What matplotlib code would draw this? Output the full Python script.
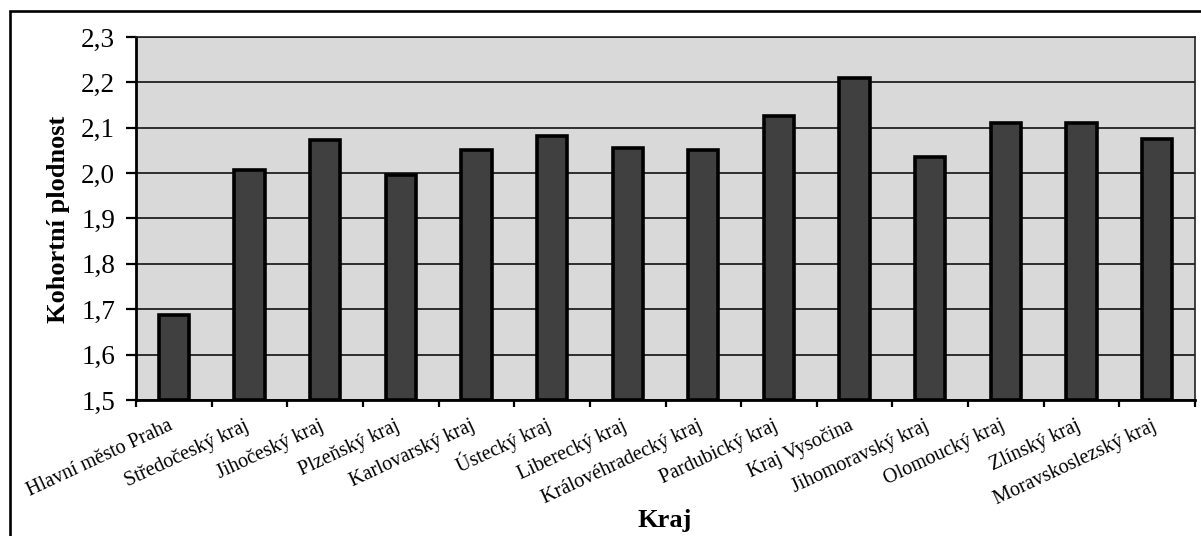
import matplotlib
matplotlib.use("Agg")
import matplotlib.pyplot as plt
from matplotlib.patches import Rectangle
from matplotlib.ticker import FixedLocator, FuncFormatter

plt.rcParams['font.family'] = ['Liberation Serif', 'DejaVu Serif']

regions = [
    "Hlavní město Praha", "Středočeský kraj", "Jihočeský kraj", "Plzeňský kraj",
    "Karlovarský kraj", "Ústecký kraj", "Liberecký kraj", "Královéhradecký kraj",
    "Pardubický kraj", "Kraj Vysočina", "Jihomoravský kraj", "Olomoucký kraj",
    "Zlínský kraj", "Moravskoslezský kraj",
]
fertility = [1.687, 2.007, 2.073, 1.996, 2.051, 2.082, 2.055, 2.051,
             2.126, 2.209, 2.036, 2.111, 2.111, 2.075]
y_ticks = [1.5, 1.6, 1.7, 1.8, 1.9, 2.0, 2.1, 2.2, 2.3]

W, H = 1201, 536
fig = plt.figure(figsize=(W / 100, H / 100), dpi=100)

# outer frame of the chart object
fig.add_artist(Rectangle((10 / W, -0.1), 1.2, 1 - 11 / H + 0.1,
                         transform=fig.transFigure, fill=False,
                         edgecolor='black', linewidth=1.9))

left, right, top, bottom = 136, 1195, 37, 400
ax = fig.add_axes([left / W, 1 - bottom / H, (right - left) / W, (bottom - top) / H])
ax.set_facecolor('#d9d9d9')

x = list(range(len(regions)))
ax.bar(x, [v - 1.5 for v in fertility], bottom=1.5, width=0.40,
       color='#404040', edgecolor='black', linewidth=2.6, zorder=3)

ax.set_xlim(-0.5, len(regions) - 0.5)
ax.set_ylim(1.5, 2.3)
ax.set_yticks(y_ticks)
ax.yaxis.set_major_formatter(FuncFormatter(lambda v, p: f"{v:.1f}".replace('.', ',')))
ax.grid(axis='y', color='black', linewidth=1.1, zorder=1)
ax.set_axisbelow(True)

ax.set_xticks(x)
ax.set_xticklabels(regions, rotation=25, ha='right', va='baseline',
                   rotation_mode='anchor', fontsize=14.5)
ax.tick_params(axis='x', which='major', length=0, pad=21)
ax.xaxis.set_minor_locator(FixedLocator([i - 0.5 for i in range(len(regions) + 1)]))
ax.tick_params(axis='x', which='minor', length=5, width=1.6, direction='out', color='black')
ax.tick_params(axis='y', which='major', length=7, width=1.6, direction='out',
               labelsize=19.5, pad=8, color='black')

for side in ('left', 'bottom'):
    ax.spines[side].set_color('black')
    ax.spines[side].set_linewidth(2.0)
for side in ('top', 'right'):
    ax.spines[side].set_color('#222222')
    ax.spines[side].set_linewidth(1.2)

fig.text(58 / W, 1 - 219 / H, "Kohortní plodnost", rotation=90, ha='center', va='center',
         fontsize=19, fontweight='bold')
fig.text(665 / W, 1 - 521 / H, "Kraj", ha='center', va='center',
         fontsize=19, fontweight='bold')

fig.savefig("out.png", dpi=100)
